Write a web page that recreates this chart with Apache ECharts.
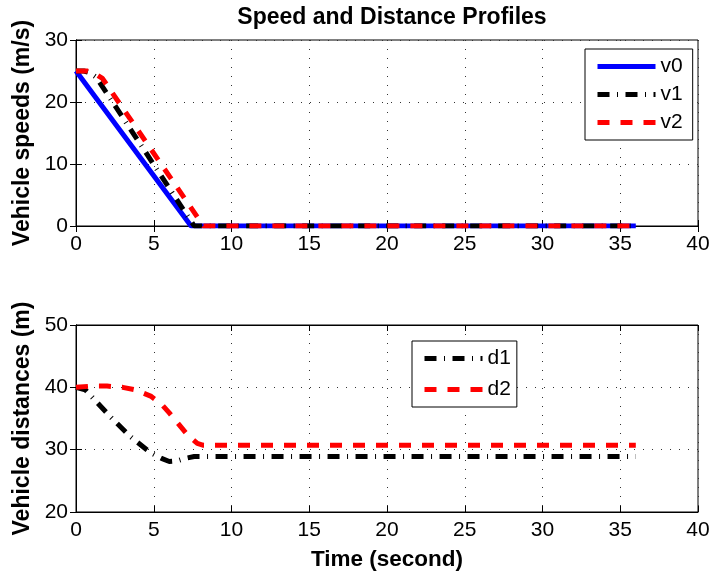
<!DOCTYPE html>
<html>
<head>
<meta charset="utf-8">
<title>Speed and Distance Profiles</title>
<script src="https://cdn.jsdelivr.net/npm/echarts@6/dist/echarts.min.js"></script>
<style>
  html, body { margin: 0; padding: 0; background: #fff; }
  #chart { width: 715px; height: 575px; }
</style>
</head>
<body>
<div id="chart"></div>
<script>
// speeds (m/s) vs time (s)
var v0T = [0, 7.4, 36];
var v0  = [25, 0, 0];
var v1T = [0, 0.5, 0.9, 1.3, 7.6, 36];
var v1  = [25, 25, 24.7, 24, 0, 0];
var v2T = [0, 0.7, 1.2, 1.7, 8.2, 36];
var v2  = [25, 25, 24.6, 23.8, 0, 0];

// distances (m) vs time (s)
var d1T = [0, 0.6, 2.2, 3.5, 4.8, 5.5, 6.0, 6.5, 7.0, 7.6, 36];
var d1  = [40, 39.6, 35.3, 32.1, 29.5, 28.6, 28.1, 28.2, 28.6, 28.9, 28.9];
var d2T = [0, 1, 2, 3, 3.8, 4.8, 5.5, 6.0, 6.6, 7.2, 7.8, 8.2, 36];
var d2  = [40, 40.2, 40.2, 40, 39.6, 38.6, 37.3, 35.9, 34.1, 32.3, 31.0, 30.7, 30.7];

var xTicks = [0, 40, 5];
var speedTicks = [0, 30, 10];
var distTicks = [20, 50, 10];

function pairs(t, v) {
  return t.map(function (x, i) { return [x, v[i]]; });
}

var chart = echarts.init(document.getElementById('chart'));
var font = 'Liberation Sans, Arial, Helvetica, sans-serif';
var grid = { show: true, borderColor: '#000', borderWidth: 1, backgroundColor: '#fff' };
var dots = { show: true, lineStyle: { color: '#333', width: 1, type: [1, 8] } };

function xAx(gi, pos, labels, name) {
  return {
    type: 'value', gridIndex: gi, position: pos,
    min: xTicks[0], max: xTicks[1], interval: xTicks[2],
    axisLine: { show: true, lineStyle: { color: '#000', width: 1 } },
    axisTick: { show: true, inside: true, length: 6, lineStyle: { color: '#000' } },
    axisLabel: { show: labels, color: '#000', fontSize: 21, fontFamily: font, margin: 8 },
    splitLine: pos === 'bottom' ? dots : { show: false },
    name: name || '', nameLocation: 'middle', nameGap: 36,
    nameTextStyle: { color: '#000', fontSize: 22.5, fontWeight: 'bold', fontFamily: font }
  };
}
function yAx(gi, pos, ticks, labels, name) {
  return {
    type: 'value', gridIndex: gi, position: pos,
    min: ticks[0], max: ticks[1], interval: ticks[2],
    axisLine: { show: true, lineStyle: { color: '#000', width: 1 } },
    axisTick: { show: true, inside: true, length: 6, lineStyle: { color: '#000' } },
    axisLabel: { show: labels, color: '#000', fontSize: 21, fontFamily: font, margin: 8 },
    splitLine: pos === 'left' ? dots : { show: false },
    name: name || '', nameLocation: 'middle', nameGap: 42, nameRotate: 90,
    nameTextStyle: { color: '#000', fontSize: 23, fontWeight: 'bold', fontFamily: font }
  };
}

var lw = 5;
var dashDot = [12, 7.5, 1, 7.5];
var dashed = [12, 11];
var hideSymbol = { color: 'rgba(0,0,0,0)', borderWidth: 0, opacity: 0 };

var option = {
  animation: false,
  backgroundColor: '#fff',
  title: {
    text: 'Speed and Distance Profiles', left: 387, textAlign: 'center', top: 1,
    textStyle: { color: '#000', fontSize: 23, fontWeight: 'bold', fontFamily: font }
  },
  grid: [
    Object.assign({ left: 76, top: 40, width: 622, height: 186 }, grid),
    Object.assign({ left: 76, top: 325, width: 622, height: 187 }, grid)
  ],
  xAxis: [
    xAx(0, 'bottom', true), xAx(0, 'top', false),
    xAx(1, 'bottom', true, 'Time (second)'), xAx(1, 'top', false)
  ],
  yAxis: [
    yAx(0, 'left', speedTicks, true, 'Vehicle speeds (m/s)'), yAx(0, 'right', speedTicks, false),
    yAx(1, 'left', distTicks, true, 'Vehicle distances (m)'), yAx(1, 'right', distTicks, false)
  ],
  legend: [
    {
      data: ['v0', 'v1', 'v2'], orient: 'vertical', left: 585, top: 49,
      itemWidth: 58, itemHeight: 14, itemGap: 7,
      padding: [7, 10, 7, 10], borderColor: '#000', borderWidth: 1, backgroundColor: '#fff',
      itemStyle: hideSymbol, lineStyle: { width: lw },
      textStyle: { color: '#000', fontSize: 21, fontFamily: font }
    },
    {
      data: ['d1', 'd2'], orient: 'vertical', left: 412, top: 341,
      itemWidth: 58, itemHeight: 14, itemGap: 10,
      padding: [7, 6, 7, 10], borderColor: '#000', borderWidth: 1, backgroundColor: '#fff',
      itemStyle: hideSymbol, lineStyle: { width: lw },
      textStyle: { color: '#000', fontSize: 21, fontFamily: font }
    }
  ],
  series: [
    { name: 'v0', type: 'line', xAxisIndex: 0, yAxisIndex: 0, data: pairs(v0T, v0), symbol: 'none',
      lineStyle: { color: '#0000ff', width: lw, type: 'solid' }, itemStyle: { color: '#0000ff' } },
    { name: 'v1', type: 'line', xAxisIndex: 0, yAxisIndex: 0, data: pairs(v1T, v1), symbol: 'none',
      lineStyle: { color: '#000', width: lw, type: dashDot }, itemStyle: { color: '#000' } },
    { name: 'v2', type: 'line', xAxisIndex: 0, yAxisIndex: 0, data: pairs(v2T, v2), symbol: 'none',
      lineStyle: { color: '#ff0000', width: lw, type: dashed }, itemStyle: { color: '#ff0000' } },
    { name: 'd1', type: 'line', xAxisIndex: 2, yAxisIndex: 2, data: pairs(d1T, d1), symbol: 'none',
      lineStyle: { color: '#000', width: lw, type: dashDot }, itemStyle: { color: '#000' } },
    { name: 'd2', type: 'line', xAxisIndex: 2, yAxisIndex: 2, data: pairs(d2T, d2), symbol: 'none',
      lineStyle: { color: '#ff0000', width: lw, type: dashed }, itemStyle: { color: '#ff0000' } }
  ]
};
chart.setOption(option);
</script>
</body>
</html>
